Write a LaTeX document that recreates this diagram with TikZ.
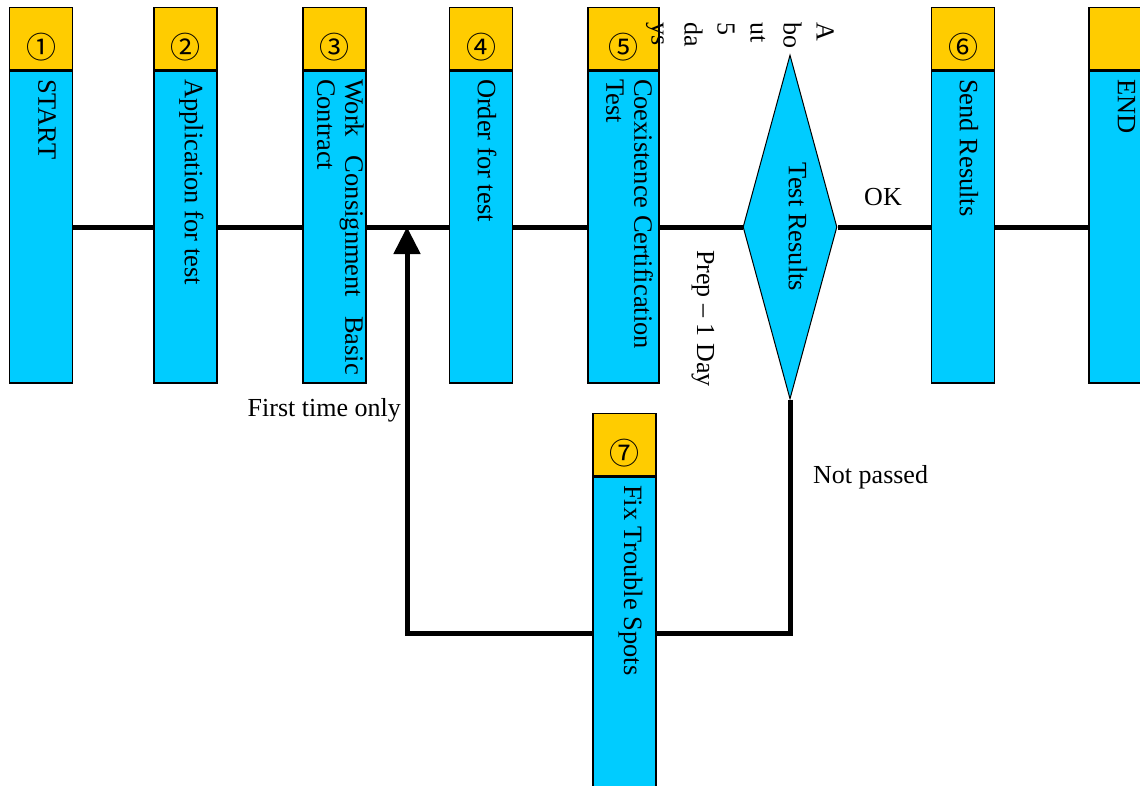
\documentclass[tikz,border=0pt]{standalone}
\usepackage{fontspec}
\setmainfont{Liberation Serif}
\newfontfamily\circfont{Noto Sans CJK JP}
\usetikzlibrary{arrows.meta,positioning,shapes.geometric}
\definecolor{stepblue}{HTML}{00CCFF}
\definecolor{numyellow}{HTML}{FFCC00}
% vertical text running top to bottom
\newcommand\vlab[1]{\rotatebox{-90}{\raisebox{6pt}[\height][\depth]{\parbox{296pt}{#1}}}}
\newcommand\cnum[1]{\raisebox{-20pt}[0pt][0pt]{#1}}
\tikzset{
  stepbox/.style={draw=black, line width=1.2pt, fill=stepblue, minimum width=63pt,
    minimum height=312pt, inner sep=0pt, font=\fontsize{26.5}{28}\selectfont},
  numbox/.style={draw=black, line width=1.2pt, fill=numyellow, minimum width=63pt,
    minimum height=62pt, inner sep=0pt, font=\circfont\fontsize{30}{30}\selectfont},
  decide/.style={diamond, aspect=0.28, draw=black, line width=1pt, fill=stepblue,
    minimum width=94pt, minimum height=344pt, inner sep=0pt, font=\fontsize{26.5}{28}\selectfont},
  flow/.style={line width=5pt},
  note/.style={inner sep=0pt, font=\fontsize{26}{30}\selectfont}
}
\begin{document}
\begin{tikzpicture}[x=1pt,y=-1pt]
\useasboundingbox (0,0) rectangle (1140,785);
% steps
\node[stepbox] (start) at (41,227) {\vlab{START}};
\node[numbox, above=0pt of start] (n1) {\cnum{①}};
\node[stepbox] (apply) at (185.5,227) {\vlab{Application for test}};
\node[numbox, above=0pt of apply] (n2) {\cnum{②}};
\node[stepbox] (contract) at (334.5,227) {\vlab{Work Consignment Basic Contract}};
\node[numbox, above=0pt of contract] (n3) {\cnum{③}};
\node[stepbox] (order) at (481,227) {\vlab{Order for test}};
\node[numbox, above=0pt of order] (n4) {\cnum{④}};
\node[stepbox, minimum width=71pt] (cert) at (623.5,227) {\vlab{\raggedright Coexistence Certification Test}};
\node[numbox, minimum width=71pt, above=0pt of cert] (n5) {\cnum{⑤}};
\node[decide] (result) at (790,227) {\rotatebox{-90}{\raisebox{8pt}[\height][\depth]{Test Results}}};
\node[stepbox] (send) at (963,227) {\vlab{Send Results}};
\node[numbox, above=0pt of send] (n6) {\cnum{⑥}};
\node[stepbox] (fin) at (1120.5,227) {\vlab{END}};
\node[numbox, above=0pt of fin] (n8) {};
\node[stepbox] (fix) at (624.5,633) {\vlab{Fix Trouble Spots}};
\node[numbox, above=0pt of fix] (n7) {\cnum{⑦}};
\coordinate (join) at (407,227);
% connectors
\draw[flow] (start) -- (apply);
\draw[flow] (apply) -- (contract);
\draw[flow] (contract) -- (order);
\draw[flow] (order) -- (cert);
\draw[flow] (cert) -- (result);
\draw[flow] (result) -- (send);
\draw[flow] (send) -- (fin);
\draw[flow] (result.south) |- (fix);
\draw[flow, -{Triangle[width=26pt,length=27pt]}] (fix) -| (join);
% labels
\node[note] (ok) at (883,197) {OK};
\node[note, anchor=east] (once) at (401,410) {First time only};
\node[note, anchor=west] (fail) at (813,477) {Not passed};
\node[note, rotate=-90, anchor=west] (prep) at (703,250) {Prep – 1 Day};
\node[note, rotate=-90, anchor=north west, align=left, font=\fontsize{26}{33}\selectfont] (days) at (834,22) {A\\bo\\ut\\5\\da\\ys};
\end{tikzpicture}
\end{document}
